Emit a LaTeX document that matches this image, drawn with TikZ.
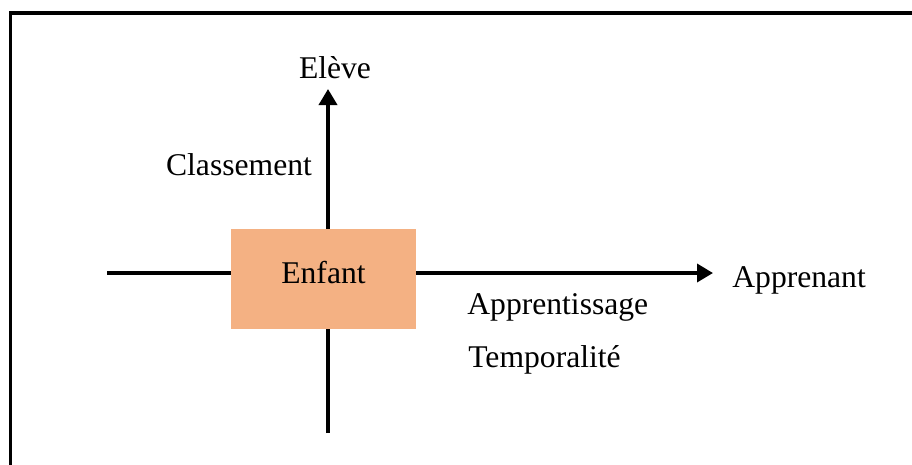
\documentclass[tikz,border=0pt]{standalone}
\usepackage{fontspec}
\setmainfont{Liberation Serif}
\usetikzlibrary{arrows.meta,positioning}

\definecolor{boxorange}{HTML}{F4B183}

\tikzset{
  axis/.style={line width=2pt},
  arr/.style={axis, -{Triangle[length=0.32cm,width=0.36cm]}},
  lbl/.style={font=\fontsize{18}{22}\selectfont, inner sep=0pt},
  centrebox/.style={fill=boxorange, minimum width=3.7cm, minimum height=2cm, inner sep=0pt, text depth=0.28cm, font=\fontsize{18}{22}\selectfont}
}

\begin{document}
\begin{tikzpicture}[x=0.02cm,y=-0.02cm]
\useasboundingbox (0,0) rectangle (912,464);

% cadre
\draw[line width=1.8pt] (10.5,470) -- (10.5,13) -- (920,13);

\coordinate (hleft) at (107,273);
\coordinate (hright) at (713,273);
\coordinate (vbottom) at (328,433);
\coordinate (vtop) at (328,89);

\draw[arr] (hleft) -- (hright);
\draw[arr] (vbottom) -- (vtop);

\node[centrebox] (enfant) at (323.5,279) {Enfant};

\node[lbl] (eleve) at (335,68) {Elève};
\node[lbl] (classement) at (239,165) {Classement};
\node[lbl, anchor=west] (apprenant) at (732,280) {Apprenant};
\node[lbl, anchor=west] (apprentissage) at (467,307) {Apprentissage};
\node[lbl, anchor=west] (temporalite) at (468,360) {Temporalité};
\end{tikzpicture}
\end{document}
